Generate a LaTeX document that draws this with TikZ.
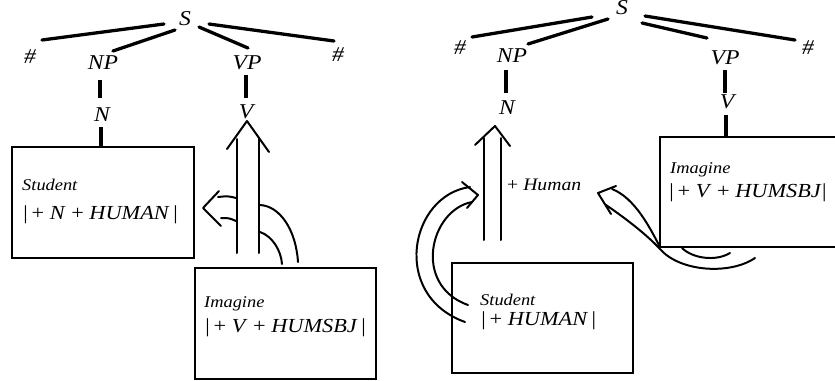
\documentclass[tikz,border=0pt]{standalone}
\usepackage{fontspec}
\setmainfont{Liberation Serif}[FakeStretch=1.12]
\begin{document}
\begin{tikzpicture}[x=0.03cm,y=-0.03cm,
  lab/.style={font=\fontsize{18}{20}\selectfont\itshape, inner sep=0pt},
  hashlab/.style={font=\fontsize{18}{20}\selectfont\itshape, inner sep=0pt},
  branch/.style={line width=2.8pt, line cap=round},
  stem/.style={line width=2.6pt},
  box/.style={draw, line width=2.3pt, rectangle, inner sep=0pt},
  arr/.style={line width=1.7pt, line cap=round, line join=round},
  bigtxt/.style={font=\fontsize{17}{20}\selectfont, inner sep=0pt, anchor=base west},
  smalltxt/.style={font=\fontsize{14}{16}\selectfont\itshape, inner sep=0pt, anchor=base west}]
\useasboundingbox (0,0) rectangle (835,380);
\clip (0,0) rectangle (835,380);
\newcommand\pls{\textup{+}}

% ---------------- left tree ----------------
\node[lab] (S1) at (185,19) {S};
\node[hashlab] (H1a) at (30,57) {\#};
\node[lab] (NP1) at (103,63) {NP};
\node[lab] (VP1) at (247,63) {VP};
\node[hashlab] (H1b) at (338,55) {\#};
\node[lab] (N1) at (102,115) {N};
\node[lab] (V1) at (246,112) {V};

\coordinate (s1a) at (164,24); \coordinate (h1a) at (42,40);
\coordinate (s1b) at (175,30); \coordinate (np1) at (113,51);
\coordinate (s1c) at (199,27); \coordinate (vp1) at (248,48);
\coordinate (s1d) at (209,24); \coordinate (h1b) at (334,41);
\draw[branch] (s1a) -- (h1a);
\draw[branch] (s1b) -- (np1);
\draw[branch] (s1c) -- (vp1);
\draw[branch] (s1d) -- (h1b);

\node[box, minimum width=5.46cm, minimum height=3.33cm] (stuL) at (103,202.5) {};
\node[box, minimum width=5.43cm, minimum height=3.33cm] (imaL) at (285.5,323.5) {};

\coordinate (np1s) at (100,80); \coordinate (n1n) at (100,98);
\coordinate (n1s) at (101,127);
\coordinate (vp1s) at (246,75); \coordinate (v1n) at (246,98);
\draw[stem] (np1s) -- (n1n);
\draw[stem] (n1s) -- (stuL.north -| n1s);
\draw[stem] (vp1s) -- (v1n);

\node[smalltxt] (stuLa) at (22,190) {Student};
\node[bigtxt] (stuLb) at (22,219) {\itshape |\,\pls\ N \pls\ HUMAN\,|};
\node[smalltxt] (imaLa) at (204,307) {Imagine};
\node[bigtxt] (imaLb) at (204,332) {\itshape |\,\pls\ V \pls\ HUMSBJ\,|};

% double upward arrow into V
\coordinate (apL) at (247,121);
\draw[arr] (237,253) -- (237,139);
\draw[arr] (259,253) -- (259,139);
\draw[arr] (227,149) -- (apL) -- (269,152);
% hollow arrow pointing left to Student box
\coordinate (tipL) at (203,208);
\draw[arr] (219,191) -- (tipL) -- (221,226);
\draw[arr] (236,198) .. controls (228,196) .. (218,197);
\draw[arr] (236,221) .. controls (229,218) .. (221,218);
% curved band from Imagine box up to the shaft
\draw[arr] (260,205) .. controls (280,206) and (296,230) .. (298,262);
\draw[arr] (260,232) .. controls (272,236) and (281,250) .. (282,264);

% ---------------- right tree ----------------
\node[lab] (S2) at (622,8) {S};
\node[hashlab] (H2a) at (460,48) {\#};
\node[lab] (NP2) at (512,56) {NP};
\node[lab] (VP2) at (725,58) {VP};
\node[hashlab] (H2b) at (808,48) {\#};
\node[lab] (N2) at (507,108) {N};
\node[lab] (V2) at (727,102) {V};

\coordinate (s2a) at (592,17); \coordinate (h2a) at (472,37);
\coordinate (s2b) at (608,19); \coordinate (np2) at (528,44);
\coordinate (s2c) at (642,23); \coordinate (vp2) at (707,38);
\coordinate (s2d) at (645,16); \coordinate (h2b) at (795,40);
\draw[branch] (s2a) -- (h2a);
\draw[branch] (s2b) -- (np2);
\draw[branch] (s2c) -- (vp2);
\draw[branch] (s2d) -- (h2b);

\node[box, minimum width=5.55cm, minimum height=3.3cm] (imaR) at (752.5,192) {};
\node[box, minimum width=5.43cm, minimum height=3.3cm] (stuR) at (542.5,318) {};

\coordinate (np2s) at (506,70); \coordinate (n2n) at (506,93);
\coordinate (vp2s) at (725,70); \coordinate (v2n) at (725,93);
\coordinate (v2s) at (726,115);
\draw[stem] (np2s) -- (n2n);
\draw[stem] (vp2s) -- (v2n);
\draw[stem] (v2s) -- (imaR.north -| v2s);

\node[smalltxt] (imaRa) at (670,173) {Imagine};
\node[bigtxt] (imaRb) at (668,197) {\itshape |\,\pls\ V \pls\ HUMSBJ|};
\node[smalltxt] (stuRa) at (480,305) {Student};
\node[bigtxt] (stuRb) at (480,325) {\itshape |\,\pls\ HUMAN\,|};
\node[font=\fontsize{15}{17}\selectfont, inner sep=0pt, anchor=base west] (hum) at (507,190) {\pls\ \textit{Human}};

% double upward arrow into N
\coordinate (apR) at (495,126);
\draw[arr] (484,240) -- (484,138);
\draw[arr] (501,240) -- (501,138);
\draw[arr] (475,145) -- (apR) -- (510,146);
% curved band from Student box to the shaft
\coordinate (tipR) at (478,195);
\draw[arr] (462,182) -- (tipR) -- (467,208);
\draw[arr] (470,187) .. controls (410,195) and (390,295) .. (465,322);
\draw[arr] (472,202) .. controls (430,210) and (412,285) .. (468,305);
% twisted band from Imagine box to "+ Human"
\coordinate (tipH) at (598,193);
\draw[arr] (616,186) -- (tipH) -- (611,214);
\draw[arr] (612,189) .. controls (635,198) and (650,228) .. (660,247);
\draw[arr] (606,205) .. controls (628,220) and (648,236) .. (660,249) .. controls (680,272) and (730,275) .. (755,258);
\draw[arr] (682,248) .. controls (692,258) and (715,262) .. (730,253);
\end{tikzpicture}
\end{document}
